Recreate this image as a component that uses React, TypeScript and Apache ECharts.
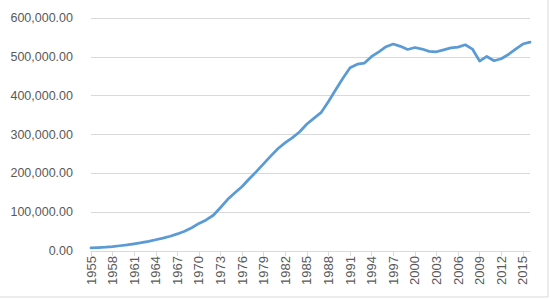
import React, { useEffect, useRef } from "react";
import * as echarts from "echarts";

const years: string[] = [];
for (let y = 1955; y <= 2016; y++) years.push(String(y));

const values: number[] = [
  8000, 9000, 10000, 11500, 13500, 15500, 18500, 21500, 25000, 29000,
  33000, 38000, 44000, 51000, 60000, 71000, 80000, 92000, 112000, 133000,
  150000, 166000, 186000, 205000, 225000, 245000, 264000, 279000, 292000, 307000,
  327000, 342000, 357000, 385000, 415000, 445000, 472000, 481000, 484000, 501000,
  513000, 526000, 533000, 527000, 519000, 524000, 520000, 514000, 513000, 518000,
  523000, 525000, 531000, 520000, 489000, 501000, 490000, 495000, 506000, 520000,
  533000, 538000,
];

const yMin = 0;
const yMax = 600000;
const yStep = 100000;

export default function App() {
  const ref = useRef<HTMLDivElement>(null);
  useEffect(() => {
    if (!ref.current) return;
    const chart = echarts.init(ref.current, undefined, { renderer: "svg" });
    chart.setOption({
      animation: false,
      backgroundColor: "#ffffff",
      grid: { left: 91, right: 20, top: 18, bottom: 49, containLabel: false },
      xAxis: {
        type: "category",
        data: years,
        boundaryGap: false,
        axisLine: { show: true, lineStyle: { color: "#d9d9d9", width: 1 } },
        axisTick: {
          show: true,
          interval: 2,
          length: 5,
          lineStyle: { color: "#d9d9d9" },
        },
        axisLabel: {
          interval: 2,
          rotate: 90,
          margin: 5,
          color: "#595959",
          fontSize: 13,
          fontFamily: "Liberation Sans",
        },
        splitLine: { show: false },
      },
      yAxis: {
        type: "value",
        min: yMin,
        max: yMax,
        interval: yStep,
        axisLine: { show: false },
        axisTick: { show: false },
        axisLabel: {
          margin: 18,
          color: "#595959",
          fontSize: 12.5,
          fontFamily: "Liberation Sans",
          formatter: (v: number) =>
            v.toLocaleString("en-US", { minimumFractionDigits: 2, maximumFractionDigits: 2 }),
        },
        splitLine: { show: true, lineStyle: { color: "#d9d9d9", width: 1 } },
      },
      series: [
        {
          type: "line",
          data: values,
          showSymbol: false,
          symbol: "none",
          lineStyle: { color: "#5b9bd5", width: 2.75, cap: "round", join: "round" },
          itemStyle: { color: "#5b9bd5" },
        },
      ],
      graphic: [
        {
          type: "rect",
          shape: { x: -2, y: -2, width: 550, height: 299 },
          style: { fill: "none", stroke: "#d9d9d9", lineWidth: 1 },
          silent: true,
        },
      ],
    });
    return () => chart.dispose();
  }, []);
  return (
    <div
      ref={ref}
      style={{ position: "fixed", left: 0, top: 0, width: 550, height: 300 }}
    />
  );
}
